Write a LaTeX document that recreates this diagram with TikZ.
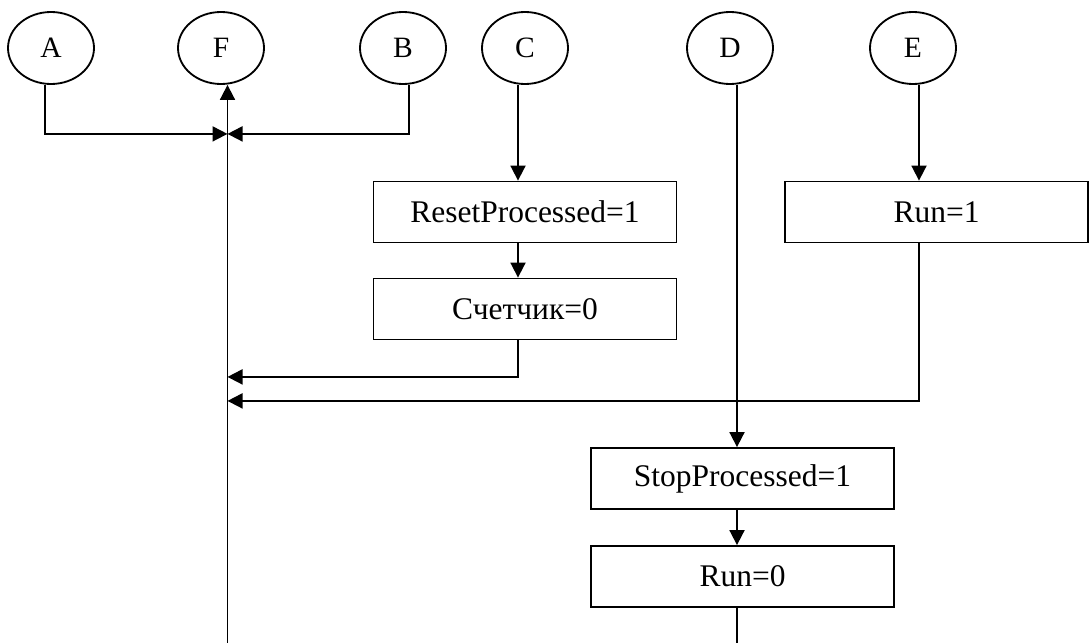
\documentclass[tikz,border=0pt]{standalone}
\usepackage{fontspec}
\setmainfont{Liberation Serif}
\usepackage{tikz}
\usetikzlibrary{calc}
\usetikzlibrary{positioning}
\usetikzlibrary{shapes.geometric}
\usetikzlibrary{arrows.meta}
\tikzstyle{term} = [draw, ellipse, minimum width=2.15cm, minimum height=1.8cm, inner sep=0pt, font=\fontsize{21}{25}\selectfont]
\tikzstyle{op} = [draw, rectangle, minimum width=7.575cm, minimum height=1.525cm, inner sep=0pt, font=\fontsize{22.4}{26}\selectfont]
\tikzstyle{flow} = [-{Triangle[length=0.375cm,width=0.375cm]}]

\begin{document}
\begin{tikzpicture}[line width=1.3pt]
    \useasboundingbox (0,0) rectangle (27.225,-16.05);

    \node[term] (A) at (1.275,-1.2) {A};
    \node[term] (F) at ($(A)+(4.25,0)$) {F};
    \node[term] (B) at ($(F)+(4.55,0)$) {B};
    \node[term] (C) at ($(B)+(3.05,0)$) {C};
    \node[term] (D) at ($(C)+(5.125,0)$) {D};
    \node[term] (E) at ($(D)+(4.575,0)$) {E};

    \node[op] (reset) at ($(C)+(0,-4.1)$) {ResetProcessed=1};
    \node[op] (count) at ($(reset)+(0,-2.425)$) {Счетчик=0};
    \node[op] (runone) at ($(E)+(0.5875,-4.1)$) {Run=1};
    \node[op] (stop) at ($(D)+(0.3125,-10.7625)$) {StopProcessed=1};
    \node[op] (runzero) at ($(stop)+(0,-2.45)$) {Run=0};

    \coordinate (f_in) at ($(F.south)+(0.1625,-1.225)$);
    \coordinate (f_count) at ($(f_in)+(0,-6.075)$);
    \coordinate (f_run) at ($(f_in)+(0,-6.675)$);
    \coordinate (f_end) at ($(F.south)+(0.1625,-13.95)$);

    \draw[flow] (f_end) -- (f_end |- F.south);
    \draw[flow] ($(A.south)+(-0.15,0)$) |- (f_in);
    \draw[flow] ($(B.south)+(0.15,0)$) |- (f_in);

    \draw[flow] ($(C.south)+(-0.175,0)$) coordinate (c_out) -- (c_out |- reset.north);
    \draw[flow] (c_out |- reset.south) -- (c_out |- count.north);
    \draw[flow] (c_out |- count.south) |- (f_count);

    \draw[flow] ($(E.south)+(0.15,0)$) coordinate (e_out) -- (e_out |- runone.north);
    \draw[flow] (e_out |- runone.south) |- (f_run);

    \draw[flow] ($(D.south)+(0.175,0)$) coordinate (d_out) -- (d_out |- stop.north);
    \draw[flow] (d_out |- stop.south) -- (d_out |- runzero.north);
    \draw (d_out |- runzero.south) -- (d_out |- f_end);
\end{tikzpicture}
\end{document}
